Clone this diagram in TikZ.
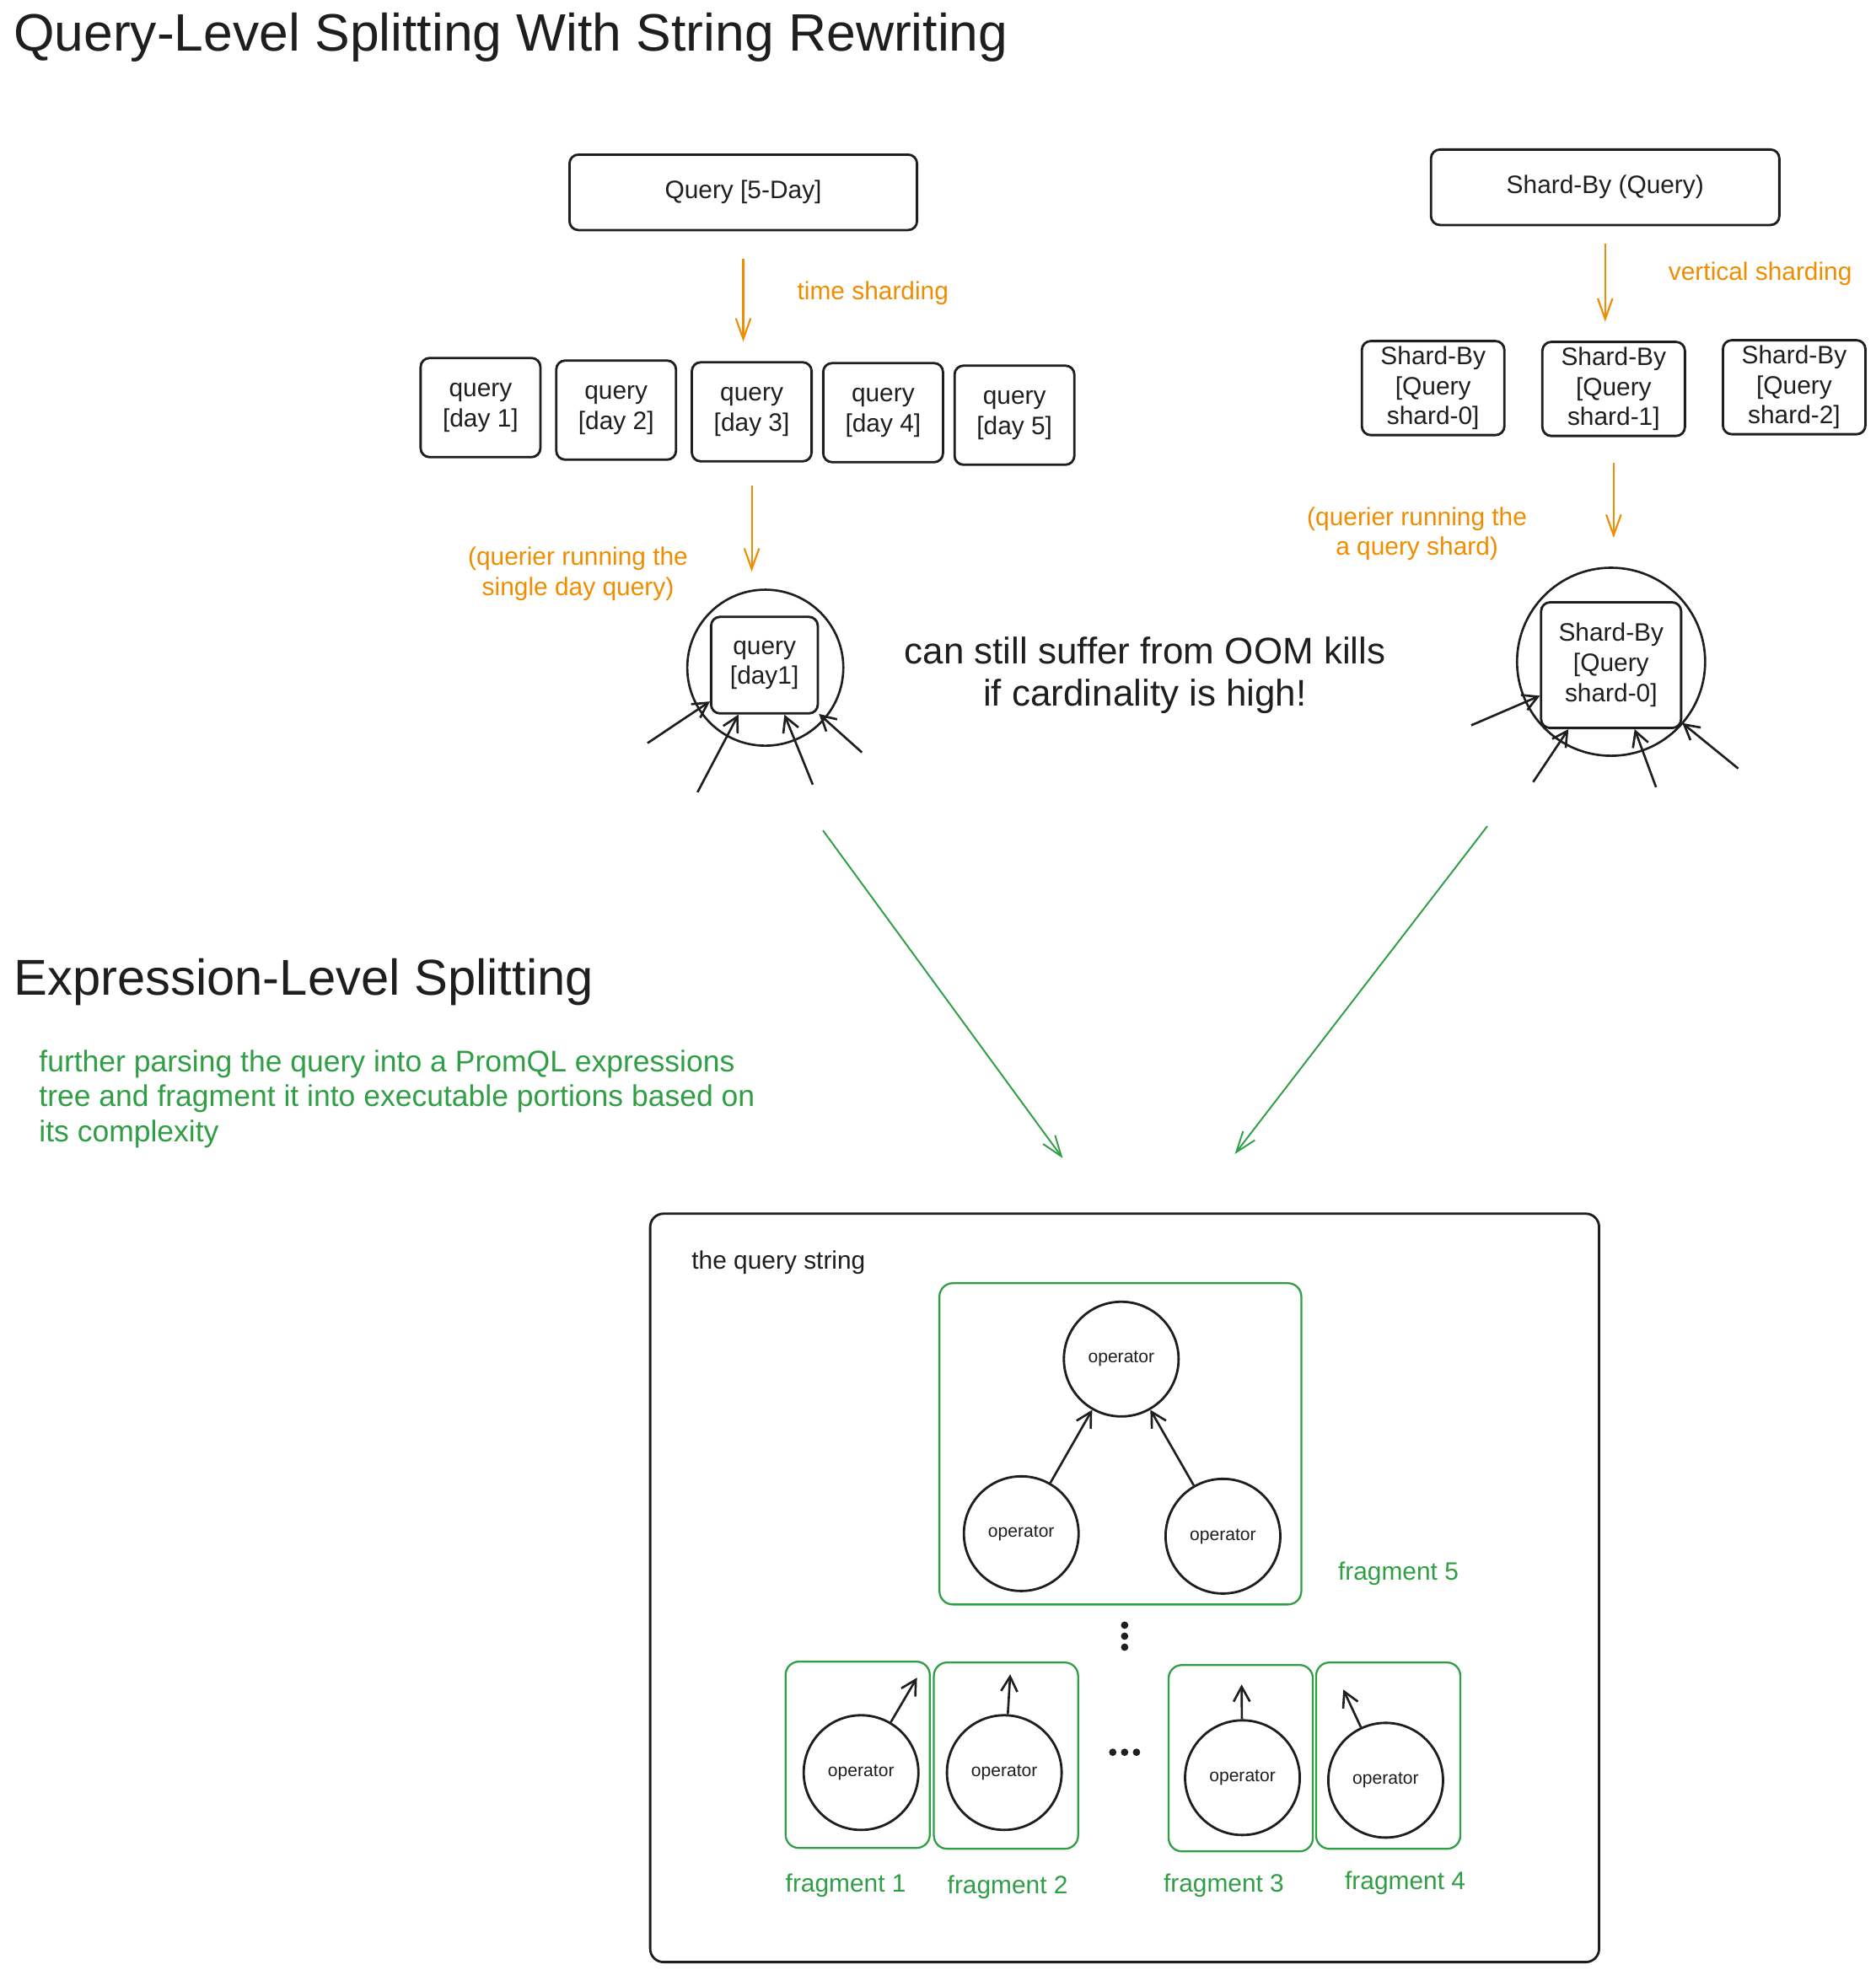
\documentclass[tikz,border=0pt]{standalone}
\usepackage{fontspec}
\setmainfont{Liberation Sans}
\usetikzlibrary{arrows.meta}
\definecolor{exblack}{HTML}{1E1E1E}
\definecolor{exorange}{HTML}{F08C00}
\definecolor{exgreen}{HTML}{2F9E44}

\begin{document}
\begin{tikzpicture}[x=0.0201cm, y=-0.0201cm,
  every node/.style = {font=\fontsize{17}{20.4}\selectfont, text=exblack, align=center},
  box/.style = {shape=rectangle, rounded corners=6pt, draw=exblack, line width=1.6pt, inner sep=0pt},
  ring/.style = {shape=circle, draw=exblack, line width=1.5pt, inner sep=0pt},
  opnode/.style = {shape=circle, draw=exblack, line width=1.6pt, minimum size=2.72cm, inner sep=0pt,
    font=\fontsize{12}{14}\selectfont},
  frag/.style = {shape=rectangle, rounded corners=9pt, draw=exgreen, line width=1.3pt,
    minimum width=3.42cm, minimum height=4.42cm},
  orarrow/.style = {draw=exorange, line width=1.2pt, -{Straight Barb[length=14pt,width=10pt]}},
  grarrow/.style = {draw=exgreen, line width=1.1pt, -{Straight Barb[length=14pt,width=10pt]}},
  blarrow/.style = {draw=exblack, line width=1.5pt, -{Straight Barb[length=10pt,width=11pt]}},
  ornote/.style = {text=exorange},
  grnote/.style = {text=exgreen}]
  \useasboundingbox (0,0) rectangle (2213,2325);

  \node[anchor=west, font=\fontsize{35.5}{42}\selectfont] (title) at (10,44)
    {Query-Level Splitting With String Rewriting};

  \node[box, minimum width=8.24cm, minimum height=1.79cm] (qfive) at (877,227) {Query [5-Day]};
  \node[ornote] (tshard) at (1030,346) {time sharding};
  \foreach \d/\x/\y in {1/567/481, 2/727/484, 3/887/486, 4/1042/487, 5/1197/490}
    \node[box, minimum width=2.84cm, minimum height=2.35cm] (day\d) at (\x,\y) {query\\{[}day \d]};
  \draw[orarrow, shorten <=0.66cm, shorten >=0.46cm] (qfive.south) -- (qfive.south |- day3.north);
  \node[ring, minimum size=3.7cm] (dcirc) at (903,788) {};
  \node[box, minimum width=2.53cm, minimum height=2.29cm] (dinner) at (902,785) {query\\{[}day1]};
  \draw[orarrow, shorten <=0.54cm, shorten >=0.4cm] (day3.south) -- (day3.south |- dcirc.north);
  \node[ornote] (dnote) at (682,677) {(querier running the\\single day query)};
  \coordinate (da1) at (764,877);
  \coordinate (da2) at (823,935);
  \coordinate (da3) at (959,926);
  \coordinate (da4) at (1017,888);
  \foreach \a in {1,...,4}
    \draw[blarrow] (da\a) -- (dinner);

  \node[font=\fontsize{25}{28}\selectfont] (oom) at (1351,797)
    {can still suffer from OOM kills\\if cardinality is high!};

  \node[box, minimum width=8.26cm, minimum height=1.79cm] (shq) at (1894,221) {Shard-By (Query)};
  \node[ornote] (vshard) at (2077,323) {vertical sharding};
  \foreach \s/\x/\y in {0/1691/458, 1/1904/459, 2/2117/457}
    \node[box, minimum width=3.38cm, minimum height=2.23cm] (shard\s) at (\x,\y)
      {Shard-By\\{[}Query\\shard-\s]};
  \draw[orarrow, shorten <=0.42cm, shorten >=0.45cm] (shq.south) -- (shq.south |- shard1.north);
  \node[ring, minimum size=4.46cm] (scirc) at (1901,781) {};
  \node[box, minimum width=3.32cm, minimum height=2.98cm] (sinner) at (1901,785)
    {Shard-By\\{[}Query\\shard-0]};
  \draw[orarrow, shorten <=0.6cm, shorten >=0.68cm] (shard1.south) -- (shard1.south |- scirc.north);
  \node[ornote] (snote) at (1672,630) {(querier running the\\a query shard)};
  \coordinate (sa1) at (1736,856);
  \coordinate (sa2) at (1809,923);
  \coordinate (sa3) at (1954,929);
  \coordinate (sa4) at (2051,907);
  \foreach \a in {1,...,4}
    \draw[blarrow] (sa\a) -- (sinner);

  \coordinate (gl) at (971,980);
  \coordinate (gle) at (1254,1367);
  \coordinate (gr) at (1755,975);
  \coordinate (gre) at (1457,1362);
  \draw[grarrow] (gl) -- (gle);
  \draw[grarrow] (gr) -- (gre);

  \node[anchor=west, font=\fontsize{34}{40}\selectfont] (extitle) at (10,1159)
    {Expression-Level Splitting};
  \node[grnote, anchor=west, align=left, font=\fontsize{20.2}{23.5}\selectfont] (expara) at (40,1297)
    {further parsing the query into a PromQL expressions\\tree and fragment it into executable portions based on\\its complexity};

  \node[box, rounded corners=9pt, minimum width=22.5cm, minimum height=17.75cm] (qstr) at (1327,1874) {};
  \node[anchor=west] (qstrlabel) at (810,1490) {the query string};
  \node[frag, minimum width=8.58cm, minimum height=7.62cm] (frag5) at (1322,1704) {};
  \node[opnode] (optop) at (1323,1604) {operator};
  \node[opnode] (opleft) at (1205,1810) {operator};
  \node[opnode] (opright) at (1443,1813) {operator};
  \draw[blarrow] (opleft) -- (optop);
  \draw[blarrow] (opright) -- (optop);
  \node[grnote] (f5label) at (1650,1857) {fragment 5};
  \foreach \y in {1918,1931,1944}
    \fill[exblack] (1327,\y) circle (2.5pt);
  \foreach \x in {1313,1327,1341}
    \fill[exblack] (\x,2068) circle (2.5pt);

  \foreach \f/\x/\y/\ox/\oy/\tx/\ty/\lx/\ly in {1/1012/2071/1016/2092/1082/1980/998/2225,
      2/1187/2072/1185/2092/1192/1976/1189/2227, 3/1464/2075/1466/2098/1465/1988/1444/2225,
      4/1638/2072/1635/2101/1585/1994/1658/2222}{
    \node[frag] (frag\f) at (\x,\y) {};
    \node[opnode] (op\f) at (\ox,\oy) {operator};
    \coordinate (tip\f) at (\tx,\ty);
    \draw[blarrow] (op\f) -- (tip\f);
    \node[grnote] (flabel\f) at (\lx,\ly) {fragment \f};
  }
\end{tikzpicture}
\end{document}
